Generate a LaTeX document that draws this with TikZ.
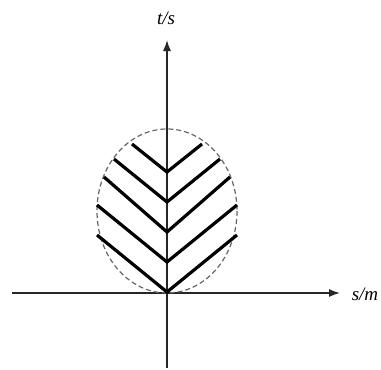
\documentclass[tikz,border=0pt]{standalone}
\usepackage{fontspec}
\setmainfont{Liberation Serif}
\usetikzlibrary{arrows.meta,positioning}

\tikzset{
  axis/.style={draw=black!85, line width=1.3pt, -{Latex[length=11pt,width=8pt]}},
  chevron/.style={draw=black, line width=3.2pt},
  bound/.style={draw=black!60, line width=1.2pt, dash pattern=on 5pt off 3pt},
  axislabel/.style={font=\fontsize{19}{21}\selectfont\itshape, inner sep=0pt}
}

\begin{document}
\begin{tikzpicture}[x=1pt,y=-1pt]
            \useasboundingbox (0,0) rectangle (381,370);
            % Axes
            \coordinate (xstart) at (12,293);
            \coordinate (xend) at (340,293);
            \coordinate (ystart) at (167,368);
            \coordinate (yend) at (167,40);
            \draw[axis] (xstart) -- (xend);
            \draw[axis] (ystart) -- (yend);

            % Axis labels
            \node[axislabel] (tlabel) at (166,18) {t/s};
            \node[axislabel] (slabel) at (365,294) {s/m};

            % Dashed boundary
            \draw[bound] (167,211) ellipse [x radius=70, y radius=82];

            % Chevrons: vertex y / end y / half width
            \foreach \vy/\ey/\dx in {172/144/35, 202/159/53, 232/177/63, 262/205/70, 292/235/70}
              \draw[chevron, line join=miter] (167-\dx,\ey) -- (167,\vy) -- (167+\dx,\ey);
          \end{tikzpicture}
\end{document}
